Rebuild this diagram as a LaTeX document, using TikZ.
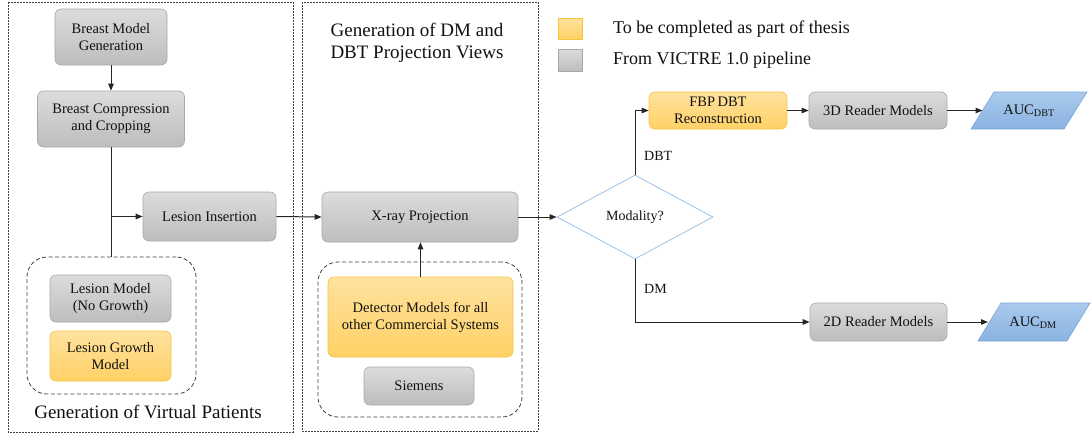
\documentclass[tikz,border=0pt]{standalone}
\usepackage{fontspec}
\setmainfont{Liberation Serif}
\usetikzlibrary{arrows.meta,shapes.geometric}

\definecolor{txt}{HTML}{111111}
\definecolor{grayTop}{HTML}{DCDCDC}
\definecolor{grayBot}{HTML}{BDBDBD}
\definecolor{grayEdge}{HTML}{A8A8A8}
\definecolor{yelTop}{HTML}{FFE29E}
\definecolor{yelBot}{HTML}{FFD166}
\definecolor{yelEdge}{HTML}{F3C443}
\definecolor{bluTop}{HTML}{A9CAEC}
\definecolor{bluBot}{HTML}{8AB3E1}
\definecolor{bluEdge}{HTML}{7AA5D8}
\definecolor{diaEdge}{HTML}{9CC2E5}
\definecolor{frameCol}{HTML}{404040}
\definecolor{lineCol}{HTML}{262626}

\tikzset{
  boxtext/.style={align=center, text=txt, font=\fontsize{14.5}{17}\selectfont, inner sep=0pt},
  graybox/.style={boxtext, draw=grayEdge, top color=grayTop, bottom color=grayBot,
    rounded corners=6pt, line width=0.6pt},
  yelbox/.style={boxtext, draw=yelEdge, top color=yelTop, bottom color=yelBot,
    rounded corners=6pt, line width=0.6pt},
  groupbox/.style={draw=frameCol, dash pattern=on 4pt off 2.5pt, rounded corners=20pt,
    line width=0.8pt, inner sep=0pt},
  framebox/.style={draw=frameCol, dash pattern=on 2pt off 1pt, line width=0.8pt},
  aucshape/.style={draw=bluEdge, top color=bluTop, bottom color=bluBot, line width=0.6pt},
  conn/.style={draw=lineCol, line width=1pt},
  arr/.style={conn, -{Triangle[length=7pt,width=5.5pt]}},
  title/.style={align=center, text=txt, font=\fontsize{19}{22}\selectfont, inner sep=0pt},
  smalllabel/.style={text=txt, font=\fontsize{14}{16}\selectfont, inner sep=0pt},
  legendkey/.style={minimum width=24pt, minimum height=21pt, inner sep=0pt, line width=0.6pt},
}

\begin{document}
\begin{tikzpicture}[x=1pt,y=-1pt]
\useasboundingbox (0,0) rectangle (1091,434);

% stage frames
\draw[framebox] (8,2) rectangle (293,432);
\draw[framebox] (302,2) rectangle (538,431);

% virtual patient generation
\node[graybox, minimum width=112pt, minimum height=56pt] (bmg) at (111,37) {Breast Model\\Generation};
\node[graybox, minimum width=147pt, minimum height=56pt] (bcc) at (111,119) {Breast Compression\\and Cropping};
\node[graybox, minimum width=133pt, minimum height=49pt] (li) at (209.5,216.5) {Lesion Insertion};
\node[groupbox, minimum width=169pt, minimum height=137pt] (lgrp) at (111.5,325.5) {};
\node[graybox, minimum width=121pt, minimum height=47pt] (lm) at (110.5,298.5) {Lesion Model\\(No Growth)};
\node[yelbox, minimum width=121pt, minimum height=50pt] (lg) at (110.5,356) {Lesion Growth\\Model};
\node[title] (gvp) at (148,412) {Generation of Virtual Patients};

% projection views
\node[title] (gpv) at (417,43) {Generation of DM and\\DBT Projection Views};
\node[graybox, minimum width=196pt, minimum height=50pt] (xr) at (420,217) {X-ray Projection};
\node[groupbox, minimum width=204pt, minimum height=155pt] (dgrp) at (420,339.5) {};
\node[yelbox, minimum width=185pt, minimum height=80pt] (det) at (420.5,317) {Detector Models for all\\other Commercial\ Systems};
\node[graybox, minimum width=110pt, minimum height=38pt] (sie) at (419,386) {Siemens};

% legend
\node[legendkey, draw=yelEdge, top color=yelTop, bottom color=yelBot] (keyY) at (570,28.5) {};
\node[legendkey, draw=grayEdge, top color=grayTop, bottom color=grayBot, minimum height=22pt] (keyG) at (570,60) {};
\node[anchor=west, text=txt, font=\fontsize{18}{20}\selectfont, inner sep=0pt] (legY) at (613,29) {To be completed as part of thesis};
\node[anchor=west, text=txt, font=\fontsize{18}{20}\selectfont, inner sep=0pt] (legG) at (613,60) {From VICTRE 1.0 pipeline};

% modality decision and readers
\node[diamond, draw=diaEdge, fill=white, line width=0.8pt, aspect=2, inner sep=0pt,
      minimum width=156pt, minimum height=84pt, text=txt, font=\fontsize{14}{16}\selectfont] (mod) at (635,217) {Modality?};
\node[yelbox, minimum width=138pt, minimum height=37pt] (fbp) at (718,110.5) {FBP\,DBT\\Reconstruction};
\node[graybox, minimum width=138pt, minimum height=37pt] (r3) at (878,110.5) {3D Reader Models};
\node[graybox, minimum width=137pt, minimum height=38pt] (r2) at (878.5,322) {2D Reader Models};

% AUC outputs
\path[aucshape] (1029,110.5) ++(-58,18.5) -- ++(23,-37) -- ++(93,0) -- ++(-23,37) -- cycle;
\node[boxtext] (aucdbt) at (1029,111) {AUC\textsubscript{DBT}};
\coordinate (dbtL) at (982.5,110.5);
\path[aucshape] (1034,322) ++(-56,19) -- ++(23,-38) -- ++(89,0) -- ++(-23,38) -- cycle;
\node[boxtext] (aucdm) at (1033,322.5) {AUC\textsubscript{DM}};
\coordinate (dmL) at (988,322);

\node[smalllabel, anchor=west] (lblDBT) at (644,156) {DBT};
\node[smalllabel, anchor=west] (lblDM) at (644,289) {DM};

% connectors
\draw[arr] (bmg.south) -- (bcc.north);
\draw[conn] (bcc.south) -- (bcc.south |- lgrp.north);
\coordinate (junc) at (bcc.south |- li.west);
\draw[arr] (junc) -- (li.west);
\draw[arr] (li.east) -- (xr.west);
\draw[arr] (det.north) -- (det.north |- xr.south);
\draw[arr] (xr.east) -- (mod.west);
\draw[arr] (mod.north) |- (fbp.west);
\draw[arr] (mod.south) |- (r2.west);
\draw[arr] (fbp.east) -- (r3.west);
\draw[arr] (r3.east) -- (dbtL);
\draw[arr] (r2.east) -- (dmL);
\end{tikzpicture}
\end{document}
